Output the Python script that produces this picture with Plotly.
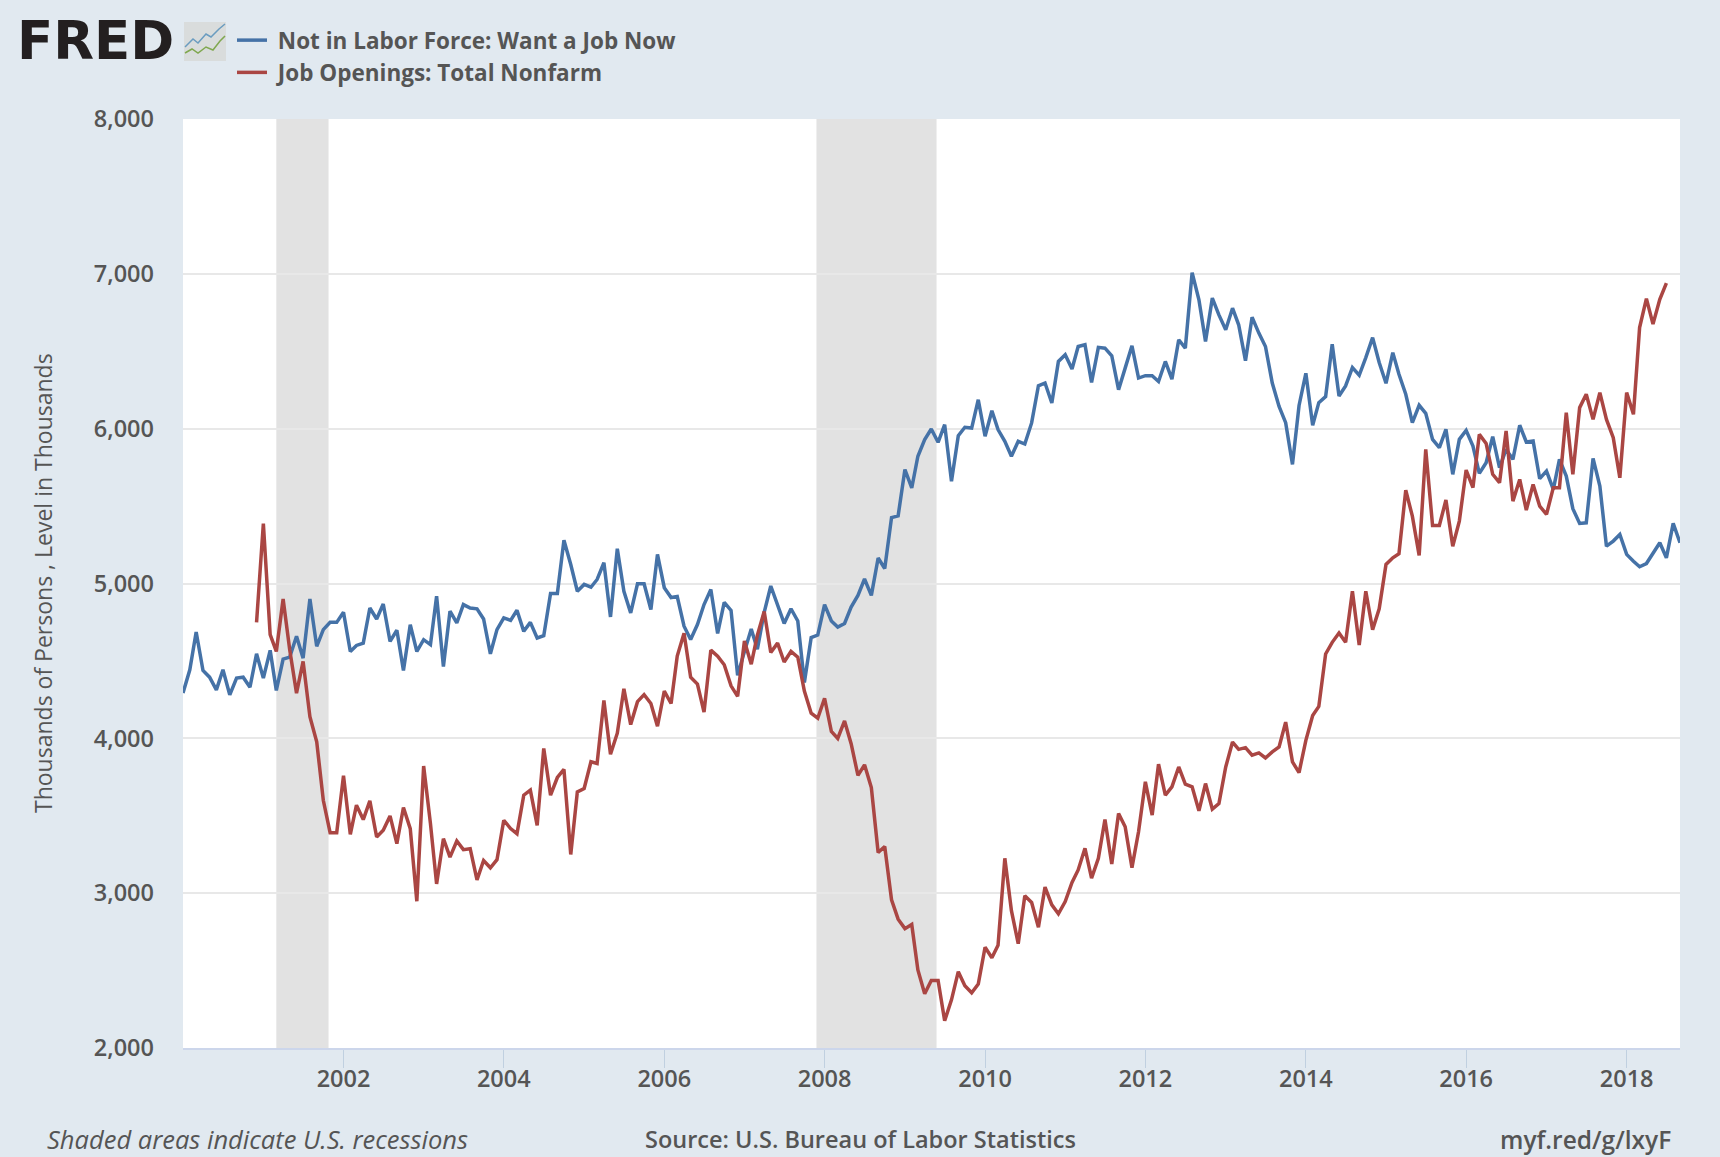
import pandas as pd
import plotly.graph_objects as go

W, H = 1720, 1157
L, R, T, B = 183, 1680, 119, 1048

blue_name = "\u00a0Not in Labor Force: Want a Job Now"
red_name = "\u00a0Job Openings: Total Nonfarm"

# Monthly, Jan 2000 - Sep 2018
blue_vals = [
 4292,4443,4687,4438,4395,4313,4443,4281,4389,4395,4330,4546,
 4389,4568,4309,4512,4525,4659,4518,4900,4594,4702,4749,4749,
 4814,4561,4600,4615,4842,4771,4868,4626,4698,4438,4734,4561,
 4637,4605,4918,4464,4821,4745,4864,4842,4836,4771,4546,4702,
 4778,4762,4827,4691,4749,4648,4663,4935,4935,5279,5123,4950,
 4994,4976,5026,5134,4784,5225,4950,4810,4998,4998,4832,5188,
 4973,4909,4916,4724,4638,4735,4864,4961,4678,4878,4826,4407,
 4560,4706,4576,4814,4984,4864,4742,4837,4758,4361,4651,4667,
 4864,4758,4719,4742,4848,4923,5029,4923,5165,5097,5426,5437,
 5736,5617,5822,5929,5998,5912,6026,5660,5955,6009,6004,6187,
 5951,6116,5994,5918,5822,5918,5901,6037,6277,6295,6166,6434,
 6477,6385,6531,6542,6299,6525,6520,6471,6252,6391,6535,6327,
 6342,6342,6305,6434,6320,6574,6520,7008,6832,6563,6843,6735,
 6639,6778,6671,6439,6720,6617,6531,6295,6144,6039,5769,6150,
 6358,6022,6168,6207,6545,6211,6276,6394,6345,6459,6588,6427,
 6293,6491,6351,6222,6039,6151,6099,5931,5877,5996,5705,5931,
 5989,5888,5711,5780,5948,5748,5866,5802,6022,5914,5920,5677,
 5726,5608,5802,5694,5483,5388,5392,5808,5629,5241,5274,5317,
 5188,5144,5108,5129,5198,5263,5166,5388,5263,
]

# Monthly, Dec 2000 - Jul 2018
red_vals = [
 4749,
 5387,4670,4561,4900,4572,4292,4497,4140,3978,3600,3391,3391,
 3758,3380,3568,3475,3596,3363,3406,3499,3320,3553,3417,2948,
 3821,3449,3060,3352,3233,3337,3281,3287,3086,3211,3164,3216,
 3471,3417,3384,3633,3665,3438,3935,3633,3747,3799,3250,3654,
 3676,3849,3838,4244,3897,4033,4320,4089,4237,4282,4225,4078,
 4305,4225,4531,4678,4395,4350,4169,4570,4531,4475,4339,4271,
 4629,4479,4667,4819,4554,4615,4493,4561,4524,4305,4162,4130,
 4259,4044,3999,4112,3965,3761,3829,3682,3263,3301,2957,2832,
 2771,2798,2504,2350,2436,2436,2176,2311,2493,2402,2357,2413,
 2651,2583,2663,3225,2887,2674,2983,2940,2780,3039,2925,2867,
 2946,3069,3150,3290,3097,3225,3476,3189,3515,3429,3165,3397,
 3719,3504,3833,3633,3687,3815,3704,3687,3532,3708,3543,3579,
 3815,3976,3929,3940,3891,3906,3873,3912,3944,4105,3848,3779,
 3987,4148,4206,4545,4620,4680,4620,4950,4603,4950,4702,4837,
 5123,5166,5192,5603,5435,5181,5866,5375,5375,5539,5241,5403,
 5733,5619,5963,5905,5705,5651,5985,5532,5672,5474,5640,5500,
 5446,5619,5619,6103,5705,6136,6222,6060,6233,6060,5942,5683,
 6233,6093,6653,6840,6675,6836,6940,
]

blue_dates = pd.date_range("2000-01-01", periods=len(blue_vals), freq="MS")
red_dates = pd.date_range("2000-12-01", periods=len(red_vals), freq="MS")

recession_starts = ["2001-03-01", "2007-11-25"]
recession_ends = ["2001-10-25", "2009-05-25"]

x_tick_years = list(range(2002, 2020, 2))
y_tick_vals = [2000, 3000, 4000, 5000, 6000, 7000, 8000]

TEXT = "#555555"
FONT = "Open Sans"
BLUE = "#4572a7"
RED = "#aa4643"


def px(x):
    return (x - L) / (R - L)


def py(y):
    return (B - y) / (B - T)


def path(points):
    return "M" + " L".join(f"{px(a):.5f},{py(b):.5f}" for a, b in points)


fig = go.Figure()
fig.add_trace(go.Scatter(x=blue_dates, y=blue_vals, name=blue_name, mode="lines",
                         line=dict(color=BLUE, width=3.5)))
fig.add_trace(go.Scatter(x=red_dates, y=red_vals, name=red_name, mode="lines",
                         line=dict(color=RED, width=3.5)))

shapes = [
    dict(type="rect", xref="x", yref="paper", x0=a, x1=b, y0=0, y1=1,
         fillcolor="#e2e2e2", line_width=0, layer="between")
    for a, b in zip(recession_starts, recession_ends)
]
# small FRED logo graph icon
shapes += [
    dict(type="rect", xref="paper", yref="paper", x0=px(184), x1=px(226), y0=py(61), y1=py(22),
         fillcolor="#d9dcdc", line_width=0, layer="above"),
    dict(type="path", xref="paper", yref="paper",
         path=path([(185, 47), (193, 39), (198, 43), (206, 34), (211, 37), (219, 29), (225, 24)]),
         line=dict(color="#6a9cc0", width=1.5), layer="above"),
    dict(type="path", xref="paper", yref="paper",
         path=path([(185, 53), (192, 49), (198, 53), (206, 47), (213, 50), (220, 41), (225, 36)]),
         line=dict(color="#80a850", width=1.5), layer="above"),
]

ann = [
    dict(text="<b>FRED</b>", x=px(15), y=py(41), xref="paper", yref="paper", xanchor="left",
         yanchor="middle", showarrow=False,
         font=dict(family="DejaVu Sans", size=53, color="#231f20")),
    dict(text="Thousands of Persons , Level in Thousands", x=px(43), y=py(583), xref="paper",
         yref="paper", textangle=-90, showarrow=False, xanchor="center", yanchor="middle",
         font=dict(family=FONT, size=23, color=TEXT)),
    dict(text="<i>Shaded areas indicate U.S. recessions</i>", x=px(45), y=py(1139), xref="paper",
         yref="paper", xanchor="left", yanchor="middle", showarrow=False,
         font=dict(family=FONT, size=25.5, color=TEXT)),
    dict(text="Source: U.S. Bureau of Labor Statistics", x=px(643), y=py(1139), xref="paper",
         yref="paper", xanchor="left", yanchor="middle", showarrow=False,
         font=dict(family=FONT, size=23.5, color=TEXT, weight=600)),
    dict(text="myf.red/g/lxyF", x=px(1673), y=py(1139), xref="paper", yref="paper",
         xanchor="right", yanchor="middle", showarrow=False,
         font=dict(family=FONT, size=24.5, color=TEXT, weight=600)),
]

fig.update_layout(
    width=W, height=H,
    margin=dict(l=L, r=W - R, t=T, b=H - B, pad=0),
    paper_bgcolor="#e1e9f0", plot_bgcolor="#ffffff",
    shapes=shapes, annotations=ann,
    hovermode=False,
    showlegend=True,
    legend=dict(x=px(232), y=py(19), xanchor="left", yanchor="top", bgcolor="rgba(0,0,0,0)",
                font=dict(family=FONT, size=22.5, color=TEXT, weight=700), itemwidth=30,
                traceorder="normal"),
    font=dict(family=FONT, color=TEXT),
    xaxis=dict(type="date", range=["2000-01-01", "2018-09-01"],
               tickvals=[f"{y}-01-01" for y in x_tick_years],
               ticktext=[str(y) for y in x_tick_years],
               ticks="outside", ticklen=18, tickwidth=1, tickcolor="#c0d0e0",
               showline=True, linecolor="#ccd6eb", linewidth=2,
               showgrid=False, zeroline=False, ticklabelstandoff=-9,
               tickfont=dict(family=FONT, size=23.5, color=TEXT, weight=600)),
    yaxis=dict(range=[2000, 8000], tickvals=y_tick_vals,
               ticktext=[f"{v:,}" for v in y_tick_vals],
               ticks="", ticklabelstandoff=28,
               showgrid=True, gridcolor="#e8e8e8", gridwidth=2, zeroline=False, showline=False,
               tickfont=dict(family=FONT, size=23.5, color=TEXT, weight=600)),
)

fig.write_html("out.html", config={"displayModeBar": False},
               post_script="document.documentElement.style.margin='0';document.body.style.margin='0';"
                           "document.body.style.background='#e1e9f0';")
